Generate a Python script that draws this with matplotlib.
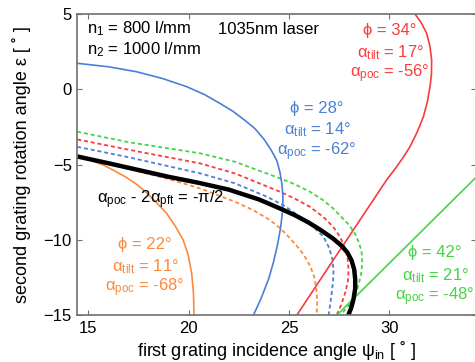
import matplotlib
matplotlib.use('Agg')
import matplotlib.pyplot as plt

plt.rcParams['font.family'] = ['Liberation Sans', 'DejaVu Sans']
plt.rcParams['mathtext.default'] = 'regular'

# colours of the four grating configurations
c_orange = '#fb8a3c'
c_blue = '#4a80d6'
c_red = '#f83c3c'
c_green = '#44d444'

# solid curves (one per configuration)
orange_x = [14.45, 15.1, 15.75, 16.3, 16.85, 17.41, 17.9, 18.35, 18.9, 19.35, 19.73, 19.98, 20.15, 20.24, 20.27]
orange_y = [-4.42, -4.7, -5.02, -5.4, -5.8, -6.3, -6.85, -7.45, -8.22, -9.1, -10.0, -11.0, -12.2, -13.5, -15.0]

blue_x = [14.45, 16.0, 17.4, 18.7, 19.9, 20.8, 21.56, 22.2, 22.8, 23.3, 23.75, 24.1, 24.39, 24.55, 24.65,
          24.7, 24.67, 24.58, 24.43, 24.22, 23.98, 23.6, 23.22]
blue_y = [1.73, 1.5, 1.17, 0.72, 0.18, -0.35, -0.93, -1.45, -2.05, -2.6, -3.3, -4.0, -4.7, -5.5, -6.3,
          -7.2, -8.2, -9.2, -10.3, -11.5, -12.6, -13.9, -15.0]

red_x = [31.28, 31.6, 31.86, 32.02, 32.11, 32.1, 32.03, 31.9, 31.7, 31.4, 31.03, 30.7, 30.3, 29.87,
         28.87, 27.87, 26.87, 25.38]
red_y = [5.0, 4.4, 3.72, 2.9, 1.95, 1.0, 0.18, -0.8, -1.81, -2.8, -3.8, -4.5, -5.25, -6.0,
         -8.0, -10.0, -12.0, -15.0]

green_x = [27.37, 30.8, 34.4]
green_y = [-15.0, -10.48, -5.73]

# dashed curves
orange_d_x = [14.45, 16, 17.5, 19, 20.57, 22.3, 23.2, 24.05, 24.55, 25.0, 25.4, 25.75, 26.05, 26.25,
              26.36, 26.4, 26.38]
orange_d_y = [-4.45, -4.95, -5.45, -5.95, -6.57, -7.45, -8.0, -8.67, -9.2, -9.8, -10.4, -11.0, -11.7,
              -12.4, -13.2, -14.1, -15.0]

blue_d_x = [14.45, 17, 20.57, 22.3, 23.9, 24.8, 25.55, 26.2, 26.72, 27.0, 27.17, 27.22, 27.2, 27.13,
            27.05, 26.97]
blue_d_y = [-3.81, -4.5, -5.57, -6.23, -7.12, -7.75, -8.45, -9.1, -9.78, -10.5, -11.3, -12.0, -12.7,
            -13.5, -14.3, -15.0]

red_d_x = [14.45, 17, 20.57, 22.3, 24.55, 25.3, 26.04, 26.7, 27.2, 27.55, 27.78, 27.92, 27.97, 27.93,
           27.8, 27.6, 27.37]
red_d_y = [-3.32, -4.0, -4.91, -5.57, -6.79, -7.25, -7.79, -8.45, -9.11, -9.8, -10.5, -11.2, -12.0,
           -12.8, -13.5, -14.3, -15.0]

green_d_x = [14.45, 17, 20.57, 22.3, 24.55, 25.3, 26.04, 26.7, 27.2, 27.6, 28.0, 28.3, 28.5, 28.62,
             28.65, 28.6, 28.48, 28.3, 28.0, 27.55]
green_d_y = [-2.81, -3.5, -4.24, -4.8, -5.9, -6.3, -6.79, -7.35, -7.9, -8.45, -9.0, -9.6, -10.2, -10.8,
             -11.5, -12.2, -12.9, -13.6, -14.3, -15.0]

# thick black condition curve
black_x = [14.45, 16, 17.5, 19, 20.5, 22, 23.5, 24.5, 25.3, 26.0, 26.6, 27.2, 27.6, 27.9, 28.12, 28.25,
           28.3, 28.3, 28.22, 28.1, 27.95]
black_y = [-4.45, -4.9, -5.35, -5.8, -6.2, -6.65, -7.3, -7.87, -8.35, -8.85, -9.35, -9.9, -10.35, -10.8,
           -11.35, -11.95, -12.6, -13.2, -13.9, -14.5, -15.0]

xticks = [15, 20, 25, 30]
yticks = [-15, -10, -5, 0, 5]

fig = plt.figure(figsize=(4.75, 3.62), dpi=100)
ax = fig.add_axes([0.1627, 0.1285, 0.8394, 0.8328])

dash = (0, (2.2, 1.6))
ax.plot(orange_d_x, orange_d_y, color=c_orange, lw=1.3, linestyle=dash)
ax.plot(blue_d_x, blue_d_y, color=c_blue, lw=1.3, linestyle=dash)
ax.plot(red_d_x, red_d_y, color=c_red, lw=1.3, linestyle=dash)
ax.plot(green_d_x, green_d_y, color=c_green, lw=1.3, linestyle=dash)

ax.plot(orange_x, orange_y, color=c_orange, lw=1.2)
ax.plot(blue_x, blue_y, color=c_blue, lw=1.2)
ax.plot(red_x, red_y, color=c_red, lw=1.2)
ax.plot(green_x, green_y, color=c_green, lw=1.2)

ax.plot(black_x, black_y, color='black', lw=3.2, solid_capstyle='butt')

ax.set_xlim(14.45, 34.32)
ax.set_ylim(-15, 5)
ax.set_xticks(xticks)
ax.set_yticks(yticks)
ax.tick_params(direction='in', top=True, right=True, length=3.5, width=0.8,
               color='#707070', labelsize=12, pad=4)
for s in ax.spines.values():
    s.set_color('#707070')
    s.set_linewidth(1.2)

ax.set_xlabel('first grating incidence angle ψ$_{in}$ [ ˚ ]', fontsize=13, labelpad=2)
ax.set_ylabel('second grating rotation angle ε [ ˚ ]', fontsize=13, labelpad=9)


def px(x, y, s, **kw):
    # place text by pixel position measured from the top-left corner
    ax.text(x / 475, 1 - y / 362, s, transform=fig.transFigure, **kw)


fs = 12
px(87, 29, 'n$_1$ = 800 l/mm', fontsize=fs, va='center')
px(87, 50, 'n$_2$ = 1000 l/mm', fontsize=fs, va='center')
px(218, 29, '1035nm laser', fontsize=fs, va='center')
px(161, 200, 'α$_{poc}$ - 2α$_{pft}$ = -π/2', fontsize=fs, va='center', ha='center')

labels = [
    (390, [30, 53, 74], ['34', '17', '-56'], c_red),
    (317, [108, 130, 152], ['28', '14', '-62'], c_blue),
    (145, [245, 267, 288], ['22', '11', '-68'], c_orange),
    (435, [253, 276, 297], ['42', '21', '-48'], c_green),
]
for xc, ys, vals, col in labels:
    px(xc, ys[0], 'ϕ = %s°' % vals[0], fontsize=fs, color=col, va='center', ha='center')
    px(xc, ys[1], 'α$_{tilt}$ = %s°' % vals[1], fontsize=fs, color=col, va='center', ha='center')
    px(xc, ys[2], 'α$_{poc}$ = %s°' % vals[2], fontsize=fs, color=col, va='center', ha='center')

fig.savefig('out.png', dpi=100)
